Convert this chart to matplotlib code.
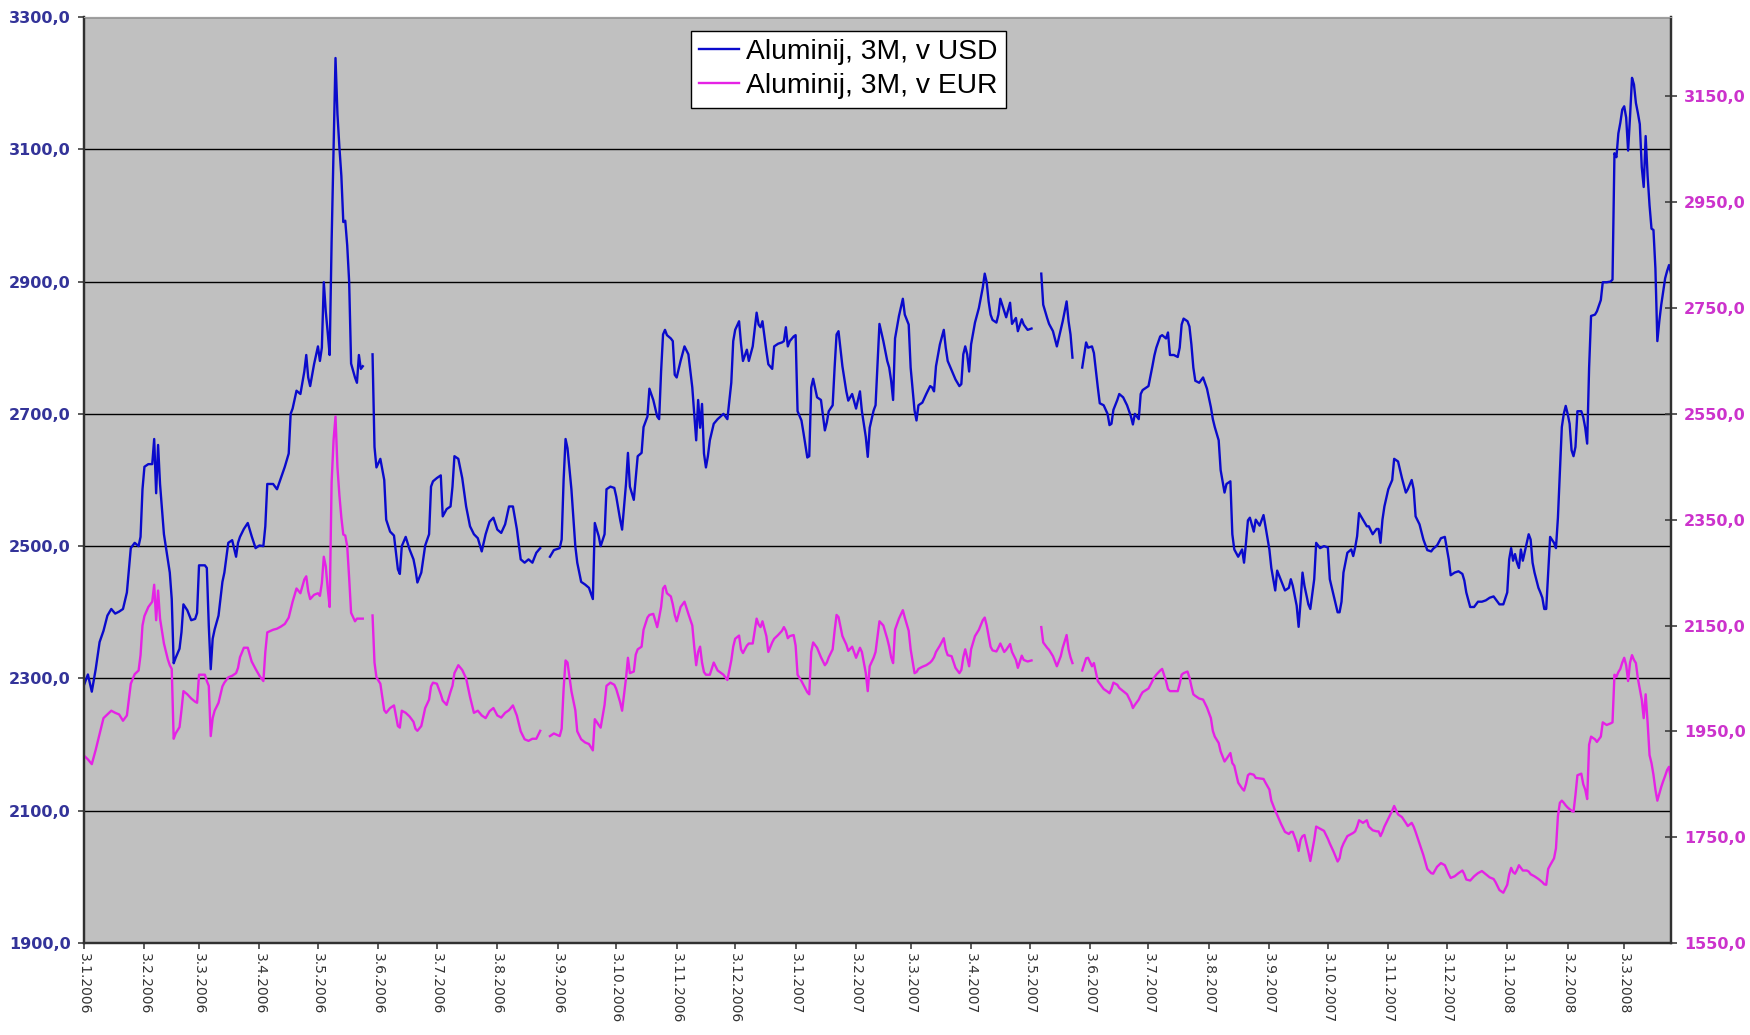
import numpy as np
import pandas as pd
import matplotlib
matplotlib.use("Agg")
import matplotlib.pyplot as plt

# Excel serial dates (days since 1899-12-30), 38720 = 3.1.2006
excel_date = [
    38720, 38722, 38724, 38726, 38728, 38730, 38732, 38734, 38736, 38738, 38740, 38742,
    38744, 38746, 38748, 38749, 38750, 38751, 38753, 38755, 38756, 38757, 38758, 38759,
    38761, 38763, 38764, 38765, 38766, 38767, 38769, 38770, 38771, 38773, 38775, 38777,
    38778, 38779, 38781, 38782, 38783, 38784, 38785, 38786, 38787, 38789, 38791, 38792,
    38794, 38796, 38798, 38799, 38800, 38802, 38804, 38806, 38808, 38810, 38812, 38813,
    38814, 38817, 38819, 38821, 38823, 38825, 38826, 38827, 38829, 38831, 38833, 38834,
    38835,
    38836, 38838, 38840, 38841, 38842, 38843, 38844, 38845, 38846, 38847, 38848, 38849,
    38850, 38851, 38852, 38853, 38854, 38855, 38856, 38857, 38859, 38860, 38861, 38862,
    38863, 38864, 38868, 38869, 38870, 38872, 38874, 38875, 38877, 38879, 38881, 38882,
    38883, 38885, 38887, 38889, 38890, 38891, 38893, 38895, 38897, 38898, 38899, 38901,
    38903, 38904, 38906, 38908, 38909, 38910, 38912, 38914, 38916, 38918, 38920, 38922,
    38924, 38926, 38928, 38930, 38932, 38934, 38936, 38938, 38940, 38942, 38944, 38946,
    38948, 38950, 38952,
    38954, 38956, 38959, 38961, 38964, 38965, 38966, 38967, 38968, 38970, 38972, 38973,
    38975, 38977, 38979, 38981, 38982, 38984, 38985, 38987, 38988, 38990, 38992, 38993,
    38995, 38996, 38997, 38998, 38999, 39000, 39002, 39003, 39004, 39006, 39007, 39009,
    39010, 39012, 39014, 39015, 39016, 39017, 39018, 39019, 39021, 39022, 39023, 39024,
    39026, 39028, 39030, 39032, 39033, 39034, 39035, 39036, 39037, 39038, 39039, 39040,
    39041, 39043, 39045, 39048, 39050, 39052, 39053, 39054, 39056, 39057, 39058, 39060,
    39061, 39063, 39065, 39066, 39067,
    39068, 39070, 39071, 39073, 39074, 39076, 39078, 39079, 39080, 39081, 39082, 39084,
    39085, 39086, 39088, 39089, 39091, 39092, 39093, 39094, 39096, 39098, 39100, 39101,
    39102, 39104, 39105, 39106, 39107, 39109, 39111, 39112, 39114, 39116, 39118, 39119,
    39121, 39122, 39123, 39125, 39126, 39128, 39130, 39132, 39133, 39134, 39135, 39136,
    39138, 39140, 39141, 39143, 39144, 39146, 39147, 39148, 39150, 39152, 39154, 39155,
    39156, 39157, 39159, 39161, 39162, 39163, 39165, 39167, 39169, 39170, 39171, 39172,
    39173, 39174, 39175, 39177, 39179, 39181, 39182, 39183, 39184, 39185,
    39186, 39188, 39189, 39190, 39192, 39193, 39195, 39196, 39198, 39199, 39201, 39202,
    39204, 39206, 39208, 39211, 39212, 39214, 39215, 39217, 39219, 39221, 39222, 39224,
    39225, 39226, 39227, 39229, 39232, 39234, 39235, 39237, 39238, 39240, 39241, 39243,
    39245, 39246, 39247, 39248, 39250, 39251, 39253, 39255, 39257, 39258, 39259, 39261,
    39262, 39263, 39266, 39268, 39269, 39270, 39272, 39273, 39275, 39276, 39277, 39279,
    39281, 39282, 39283, 39284, 39286, 39287, 39288, 39289, 39290, 39292, 39294, 39296,
    39298, 39299, 39300,
    39302, 39303, 39305, 39306, 39308, 39309, 39310, 39312, 39314, 39315, 39316, 39317,
    39318, 39320, 39321, 39323, 39325, 39326, 39328, 39329, 39331, 39332, 39334, 39336,
    39338, 39339, 39340, 39341, 39342, 39343, 39344, 39345, 39346, 39348, 39349, 39351,
    39352, 39354, 39356, 39358, 39359, 39361, 39363, 39364, 39365, 39366, 39368, 39370,
    39371, 39372, 39373, 39374, 39376, 39378, 39379, 39381, 39383, 39384, 39385, 39386,
    39387, 39389, 39391, 39392, 39394, 39396, 39398, 39399, 39401, 39402, 39403, 39405,
    39407, 39409, 39411, 39412, 39414, 39416,
    39418, 39420, 39421, 39423, 39425, 39427, 39428, 39429, 39431, 39433, 39435, 39437,
    39439, 39441, 39443, 39444, 39446, 39448, 39450, 39451, 39452, 39453, 39454, 39455,
    39456, 39457, 39458, 39460, 39461, 39462, 39463, 39464, 39466, 39467, 39468, 39469,
    39470, 39471, 39472, 39474, 39475, 39476, 39477, 39478, 39479, 39480, 39481, 39482,
    39483, 39484, 39485, 39486, 39488, 39489, 39490, 39491, 39492, 39493, 39495, 39496,
    39498, 39499, 39501, 39503, 39504, 39505, 39506, 39507, 39508, 39509, 39510, 39511,
    39512, 39513, 39514, 39515, 39516, 39517, 39518, 39519, 39520, 39521, 39522, 39523,
    39524, 39525, 39526, 39527, 39528, 39529, 39530, 39531, 39532, 39533, 39534,
]

nan = float("nan")

usd = [
    2290, 2306, 2280, 2314, 2355, 2372, 2395, 2405, 2398, 2401, 2405, 2430,
    2497, 2505, 2500, 2514, 2586, 2620, 2624, 2624, 2662, 2580, 2653, 2594,
    2518, 2480, 2460, 2420, 2323, 2331, 2345, 2370, 2412, 2403, 2388, 2390,
    2399, 2471, 2471, 2471, 2467, 2380, 2314, 2360, 2374, 2395, 2446, 2460,
    2505, 2509, 2484, 2505, 2514, 2526, 2535, 2515, 2497, 2501, 2500, 2530,
    2594, 2594, 2586, 2603, 2620, 2640, 2700, 2708, 2735, 2730, 2764, 2789,
    2755,
    2742, 2775, 2802, 2780, 2800, 2899, 2855, 2823, 2789, 2960, 3100, 3238,
    3153, 3103, 3060, 2990, 2992, 2955, 2900, 2776, 2755, 2747, 2789, 2768,
    2772, nan, 2790, 2650, 2619, 2632, 2600, 2540, 2522, 2516, 2465, 2458,
    2500, 2514, 2495, 2480, 2465, 2445, 2460, 2501, 2518, 2590, 2598, 2603,
    2607, 2545, 2556, 2560, 2590, 2636, 2632, 2603, 2560, 2530, 2518, 2512,
    2492, 2518, 2537, 2543, 2525, 2520, 2533, 2560, 2560, 2526, 2480, 2475,
    2480, 2475, 2490,
    2497, nan, 2484, 2494, 2497, 2510, 2600, 2662, 2648, 2586, 2500, 2475,
    2446, 2442, 2437, 2420, 2535, 2515, 2500, 2518, 2586, 2590, 2588, 2575,
    2540, 2525, 2560, 2594, 2641, 2590, 2570, 2603, 2636, 2641, 2680, 2696,
    2738, 2721, 2696, 2692, 2764, 2820, 2827, 2819, 2814, 2810, 2759, 2755,
    2780, 2802, 2790, 2740, 2700, 2660, 2721, 2679, 2715, 2640, 2619, 2636,
    2660, 2685, 2692, 2700, 2692, 2747, 2810, 2827, 2840, 2806, 2780, 2797,
    2780, 2802, 2853, 2835, 2831,
    2840, 2795, 2775, 2768, 2802, 2806, 2808, 2810, 2831, 2802, 2810, 2817,
    2819, 2704, 2690, 2672, 2634, 2636, 2740, 2753, 2725, 2721, 2675, 2687,
    2704, 2713, 2770, 2820, 2825, 2772, 2734, 2720, 2730, 2708, 2734, 2704,
    2665, 2635, 2679, 2705, 2713, 2836, 2810, 2780, 2770, 2750, 2721, 2814,
    2848, 2874, 2850, 2835, 2770, 2705, 2690, 2713, 2717, 2730, 2742, 2740,
    2734, 2772, 2805, 2827, 2800, 2780, 2766, 2752, 2742, 2745, 2790, 2802,
    2790, 2764, 2805, 2838, 2860, 2891, 2912, 2899, 2870, 2850,
    2842, 2838, 2850, 2874, 2855, 2846, 2868, 2836, 2845, 2825, 2843, 2835,
    2827, 2829, nan, 2912, 2865, 2845, 2836, 2825, 2802, 2827, 2840, 2870,
    2840, 2820, 2785, nan, 2770, 2808, 2800, 2802, 2792, 2740, 2716, 2713,
    2700, 2683, 2685, 2706, 2721, 2730, 2725, 2713, 2696, 2684, 2700, 2692,
    2730, 2736, 2742, 2772, 2788, 2800, 2817, 2819, 2814, 2823, 2789, 2789,
    2786, 2800, 2835, 2844, 2840, 2832, 2805, 2770, 2750, 2747, 2755, 2738,
    2710, 2692, 2680,
    2660, 2615, 2581, 2594, 2598, 2518, 2495, 2484, 2495, 2475, 2505, 2539,
    2543, 2522, 2540, 2531, 2547, 2530, 2495, 2467, 2433, 2463, 2448, 2433,
    2437, 2450, 2440, 2425, 2410, 2378, 2416, 2460, 2440, 2412, 2405, 2450,
    2505, 2497, 2500, 2498, 2450, 2425, 2400, 2400, 2416, 2460, 2490, 2495,
    2485, 2498, 2515, 2550, 2540, 2530, 2530, 2518, 2526, 2526, 2505, 2540,
    2560, 2586, 2600, 2632, 2628, 2603, 2581, 2586, 2600, 2586, 2545, 2533,
    2510, 2494, 2492, 2496, 2501, 2512,
    2514, 2480, 2456, 2460, 2462, 2458, 2448, 2430, 2408, 2408, 2416, 2416,
    2418, 2422, 2424, 2420, 2412, 2412, 2430, 2480, 2497, 2478, 2488, 2475,
    2467, 2495, 2478, 2505, 2518, 2510, 2475, 2460, 2437, 2430, 2422, 2405,
    2405, 2458, 2514, 2505, 2497, 2543, 2610, 2680, 2700, 2712, 2700, 2685,
    2645, 2636, 2650, 2704, 2704, 2695, 2679, 2655, 2770, 2848, 2850, 2855,
    2872, 2899, 2899, 2900, 2903, 3094, 3088, 3124, 3140, 3160, 3165, 3148,
    3098, 3150, 3208, 3198, 3170, 3155, 3138, 3073, 3043, 3120, 3060, 3015,
    2980, 2978, 2920, 2810, 2840, 2865, 2885, 2905, 2916, 2925, 2912,
]

eur = [
    1904, 1897, 1888, 1915, 1945, 1975, 1982, 1989, 1985, 1982, 1970, 1980,
    2040, 2058, 2065, 2094, 2150, 2168, 2185, 2195, 2227, 2160, 2216, 2163,
    2116, 2086, 2075, 2068, 1936, 1946, 1958, 1990, 2026, 2020, 2012, 2006,
    2004, 2057, 2057, 2057, 2045, 2036, 1941, 1975, 1989, 2004, 2035, 2042,
    2052, 2055, 2060, 2070, 2090, 2108, 2108, 2082, 2068, 2055, 2045, 2100,
    2137, 2142, 2144, 2148, 2153, 2165, 2180, 2195, 2220, 2211, 2237, 2243,
    2215,
    2200, 2208, 2211, 2206, 2230, 2280, 2262, 2220, 2185, 2420, 2500, 2545,
    2449, 2396, 2354, 2322, 2320, 2300, 2240, 2174, 2158, 2163, 2163, 2163,
    2163, nan, 2169, 2080, 2052, 2040, 1990, 1985, 1994, 1999, 1960, 1957,
    1989, 1985, 1978, 1968, 1955, 1951, 1960, 1994, 2010, 2035, 2042, 2040,
    2020, 2008, 2000, 2025, 2036, 2060, 2075, 2066, 2050, 2015, 1985, 1989,
    1980, 1975, 1988, 1994, 1980, 1976, 1985, 1990, 1999, 1980, 1950, 1935,
    1932, 1936, 1936,
    1951, nan, 1941, 1946, 1941, 1955, 2030, 2084, 2080, 2026, 1990, 1950,
    1935, 1929, 1926, 1914, 1973, 1962, 1957, 2000, 2036, 2042, 2038, 2030,
    2005, 1989, 2020, 2050, 2089, 2060, 2063, 2095, 2105, 2110, 2142, 2165,
    2170, 2172, 2147, 2165, 2185, 2220, 2225, 2211, 2205, 2190, 2170, 2158,
    2185, 2195, 2172, 2150, 2110, 2075, 2100, 2110, 2080, 2062, 2057, 2057,
    2057, 2080, 2065, 2057, 2047, 2084, 2110, 2125, 2131, 2105, 2098, 2112,
    2116, 2116, 2163, 2152, 2147,
    2158, 2130, 2100, 2118, 2125, 2132, 2140, 2147, 2140, 2126, 2130, 2132,
    2112, 2057, 2045, 2038, 2024, 2020, 2100, 2118, 2108, 2090, 2075, 2080,
    2090, 2105, 2140, 2170, 2166, 2130, 2114, 2102, 2110, 2089, 2108, 2100,
    2060, 2026, 2073, 2089, 2100, 2158, 2150, 2125, 2110, 2090, 2079, 2142,
    2163, 2179, 2165, 2140, 2105, 2060, 2062, 2068, 2072, 2075, 2080, 2084,
    2090, 2100, 2112, 2126, 2105, 2094, 2092, 2070, 2060, 2066, 2090, 2105,
    2090, 2073, 2105, 2130, 2142, 2160, 2165, 2150, 2130, 2110,
    2103, 2101, 2108, 2116, 2100, 2104, 2115, 2100, 2085, 2070, 2093, 2085,
    2082, 2084, nan, 2147, 2118, 2108, 2104, 2092, 2073, 2092, 2108, 2132,
    2105, 2090, 2079, nan, 2065, 2088, 2089, 2073, 2079, 2045, 2040, 2030,
    2025, 2022, 2030, 2042, 2038, 2032, 2026, 2020, 2005, 1994, 2000, 2010,
    2018, 2024, 2031, 2045, 2052, 2057, 2065, 2068, 2045, 2030, 2026, 2026,
    2026, 2040, 2057, 2060, 2063, 2052, 2035, 2020, 2017, 2012, 2010, 1995,
    1975, 1951, 1940,
    1928, 1912, 1893, 1898, 1909, 1890, 1885, 1853, 1842, 1838, 1850, 1867,
    1870, 1868, 1862, 1861, 1860, 1853, 1840, 1819, 1800, 1792, 1775, 1760,
    1756, 1760, 1760, 1750, 1740, 1724, 1745, 1752, 1754, 1722, 1705, 1745,
    1770, 1766, 1762, 1747, 1738, 1722, 1704, 1710, 1729, 1738, 1752, 1756,
    1758, 1761, 1770, 1782, 1777, 1782, 1770, 1763, 1761, 1761, 1752, 1760,
    1770, 1785, 1800, 1809, 1793, 1788, 1777, 1771, 1777, 1770, 1760, 1738,
    1716, 1690, 1682, 1681, 1694, 1701,
    1697, 1680, 1673, 1676, 1682, 1687, 1680, 1670, 1668, 1676, 1682, 1686,
    1680, 1674, 1671, 1665, 1650, 1645, 1660, 1680, 1692, 1684, 1681, 1688,
    1697, 1692, 1687, 1687, 1685, 1680, 1678, 1676, 1671, 1668, 1665, 1661,
    1660, 1690, 1697, 1710, 1729, 1790, 1815, 1819, 1815, 1810, 1806, 1803,
    1800, 1798, 1830, 1867, 1870, 1850, 1840, 1822, 1925, 1940, 1935, 1930,
    1940, 1967, 1962, 1965, 1967, 2057, 2053, 2062, 2068, 2080, 2089, 2075,
    2045, 2080, 2094, 2085, 2079, 2050, 2030, 2010, 1975, 2020, 1967, 1905,
    1890, 1868, 1840, 1819, 1832, 1845, 1856, 1866, 1877, 1883, 1856,
]

month_labels = [
    "3.1.2006", "3.2.2006", "3.3.2006", "3.4.2006", "3.5.2006", "3.6.2006",
    "3.7.2006", "3.8.2006", "3.9.2006", "3.10.2006", "3.11.2006", "3.12.2006",
    "3.1.2007", "3.2.2007", "3.3.2007", "3.4.2007", "3.5.2007", "3.6.2007",
    "3.7.2007", "3.8.2007", "3.9.2007", "3.10.2007", "3.11.2007", "3.12.2007",
    "3.1.2008", "3.2.2008", "3.3.2008",
]
usd_ticks = [1900, 2100, 2300, 2500, 2700, 2900, 3100, 3300]
eur_ticks = [1550, 1750, 1950, 2150, 2350, 2550, 2750, 2950, 3150]
series_names = ["Aluminij, 3M, v USD", "Aluminij, 3M, v EUR"]

dates = pd.to_datetime(np.array(excel_date, dtype=float), unit="D", origin="1899-12-30")
usd_v = np.array(usd, dtype=float)
eur_v = np.array(eur, dtype=float)
tick_dates = pd.to_datetime(month_labels, format="%d.%m.%Y")

def fmt(v):
    return f"{v:.1f}".replace(".", ",")

W, H = 1750, 1035
fig = plt.figure(figsize=(W / 100, H / 100), dpi=100)
fig.patch.set_facecolor("white")
L, R, T, B = 84, 1671, 17, 943
ax = fig.add_axes([L / W, (H - B) / H, (R - L) / W, (B - T) / H])
ax.set_facecolor("#C0C0C0")
ax2 = ax.twinx()

blue = "#0A0ACC"
mag = "#E522E5"
l1, = ax.plot(dates, usd_v, color=blue, lw=1.7, label=series_names[0])
l2, = ax2.plot(dates, eur_v, color=mag, lw=1.7, label=series_names[1])

ax.set_xlim(dates[0], dates[-1])
ax.set_ylim(usd_ticks[0], usd_ticks[-1])
ax2.set_ylim(1550, 3300)

ax.set_axisbelow(True)
ax.yaxis.grid(True, color="black", lw=1.0)
ax.xaxis.grid(False)

ax.set_yticks(usd_ticks, labels=[fmt(v) for v in usd_ticks],
              fontweight="bold", color="#333399", fontsize=11.5)
ax2.set_yticks(eur_ticks, labels=[fmt(v) for v in eur_ticks],
               fontweight="bold", color="#CC33CC", fontsize=11.5)
ax.set_xticks(tick_dates, labels=month_labels, rotation=-90,
              fontsize=10, color="#333333", ha="center", va="top")

ax.tick_params(axis="y", direction="out", length=4.5, width=1.2, color="#404040", pad=5)
ax2.tick_params(axis="y", direction="inout", length=9, width=1.2, color="#404040", pad=5)
ax.tick_params(axis="x", direction="out", length=4.5, width=1.2, color="#404040", pad=3)

for a in (ax, ax2):
    for s in ("left", "bottom", "right"):
        a.spines[s].set_color("#303030")
        a.spines[s].set_linewidth(1.6)
    a.spines["top"].set_color("#A0A0A0")
    a.spines["top"].set_linewidth(0.8)

leg = ax2.legend(handles=[l1, l2], labels=series_names, loc="upper left",
                 bbox_to_anchor=(0.3825, 0.985), frameon=True, fancybox=False,
                 edgecolor="black", facecolor="white", framealpha=1,
                 prop={"family": "Liberation Sans", "size": 20.3},
                 handlelength=1.4, handletextpad=0.25, borderpad=0.3,
                 labelspacing=0.28, borderaxespad=0)
leg.get_frame().set_linewidth(1.0)

fig.savefig("out.png", dpi=100, facecolor="white")
